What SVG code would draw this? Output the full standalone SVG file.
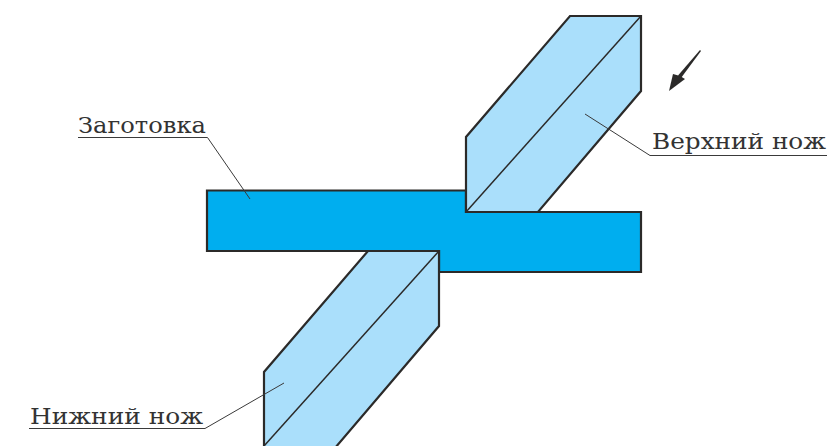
<svg xmlns="http://www.w3.org/2000/svg" width="840" height="446" viewBox="0 0 840 446">
<style>
.knife{fill:#aadffb;stroke:#2b2a29;stroke-width:2.2;stroke-linejoin:miter}
.edge{fill:none;stroke:#2b2a29;stroke-width:1.5}
.leader{fill:none;stroke:#3a3a3a;stroke-width:1}
.label{font-family:"DejaVu Serif","Liberation Serif",serif;font-size:22px;fill:#333}
</style>
<rect width="840" height="446" fill="#fff"/>
<g id="workpiece"><path d="M207 190.500H466V212H641V272H439V251H207Z" fill="#00aeef" stroke="#2b2a29" stroke-width="2.200"/></g>
<g id="upper-knife">
<path class="knife" d="M570 16H641V91L538 212H466V137Z"/>
<path class="edge" d="M641 16L466 212"/>
</g>
<g id="lower-knife">
<path class="knife" d="M368 251H439V326L335 448H264V372Z"/>
<path class="edge" d="M439 251L264 446"/>
</g>
<g id="force-arrow">
<path d="M700 50L701 51L681 78L678 75.500Z" fill="#2b2a29"/>
<path d="M669 91L673 74L680 76L685 79Z" fill="#2b2a29"/>
</g>
<g id="connectors">
<path class="leader" d="M78 137.500H207.500L250 199"/>
<path class="leader" d="M827 155.500H650L585 114"/>
<path class="leader" d="M29 428.500H205L284 383"/>
</g>
<g id="label-workpiece"><text class="label" x="78" y="133" textLength="128" lengthAdjust="spacingAndGlyphs">Заготовка</text></g>
<g id="label-upper"><text class="label" x="652" y="149" textLength="174" lengthAdjust="spacingAndGlyphs">Верхний нож</text></g>
<g id="label-lower"><text class="label" x="30" y="424" textLength="173" lengthAdjust="spacingAndGlyphs">Нижний нож</text></g>
</svg>
